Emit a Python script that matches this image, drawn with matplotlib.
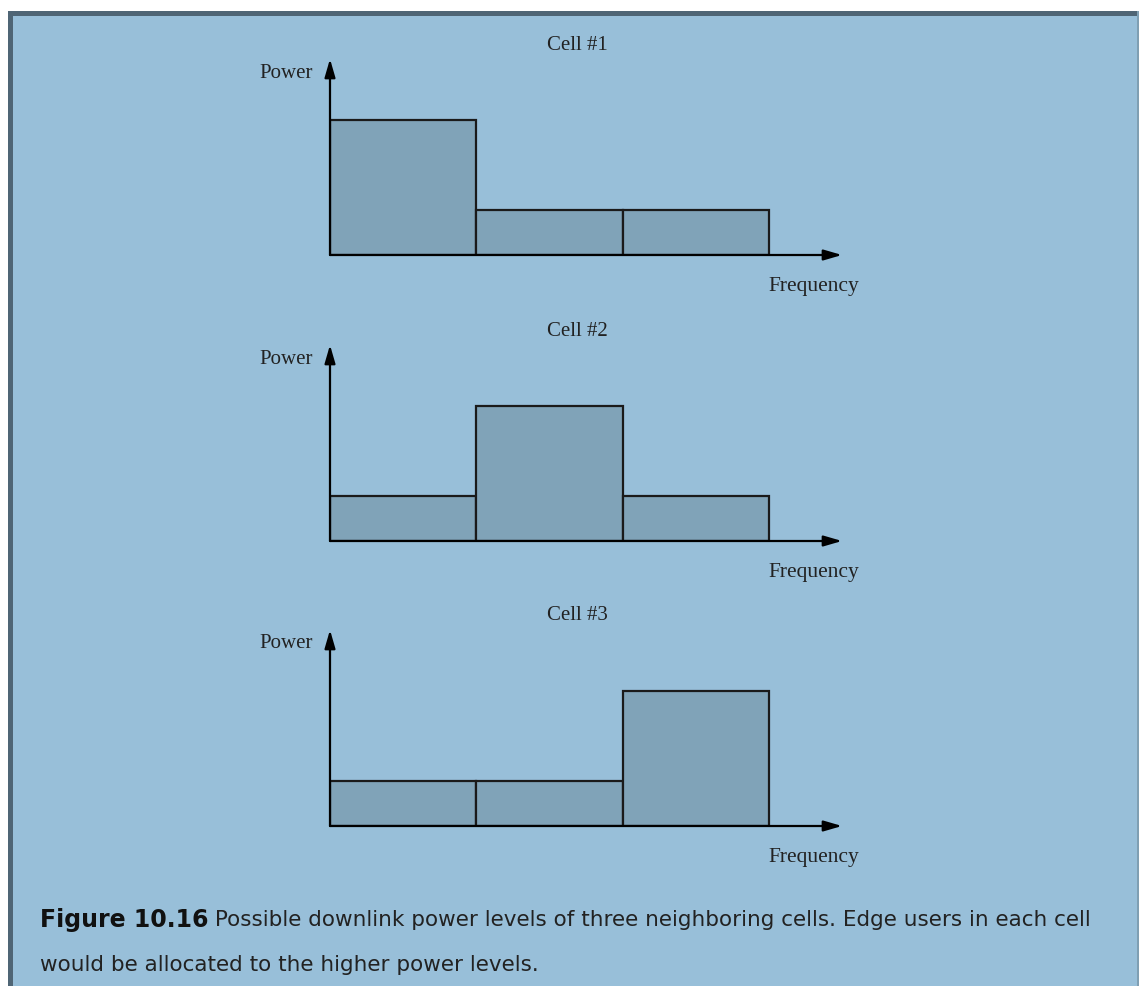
import matplotlib
matplotlib.use('Agg')
import matplotlib.pyplot as plt
from matplotlib.patches import Rectangle
from matplotlib import font_manager

# power level per frequency band, one row per cell
cells = ['Cell #1', 'Cell #2', 'Cell #3']
bands = [0, 1, 2]
power_cell1 = [3, 1, 1]
power_cell2 = [1, 3, 1]
power_cell3 = [1, 1, 3]
powers = [power_cell1, power_cell2, power_cell3]

caption_bold = 'Figure 10.16'
caption_line1 = ' Possible downlink power levels of three neighboring cells. Edge users in each cell'
caption_line2 = 'would be allocated to the higher power levels.'

BG = '#98bfd9'
BAR = '#80a3b8'
EDGE = '#1a1a1a'
BORDER = '#4f6575'

W, H = 1139, 987
fig = plt.figure(figsize=(W / 100, H / 100), dpi=100)
fig.patch.set_facecolor('white')

# framed blue panel
fig.add_artist(Rectangle((10 / W, 0), (W - 11) / W, (H - 14) / H, transform=fig.transFigure,
                         facecolor=BG, edgecolor='none', zorder=0))
fig.add_artist(Rectangle((8 / W, 0), 5 / W, (H - 12) / H, transform=fig.transFigure,
                         facecolor=BORDER, edgecolor='none', zorder=1))
fig.add_artist(Rectangle((8 / W, (H - 17) / H), (W - 8) / W, 5 / H, transform=fig.transFigure,
                         facecolor=BORDER, edgecolor='none', zorder=1))
fig.add_artist(Rectangle(((W - 2) / W, 0), 2 / W, (H - 12) / H, transform=fig.transFigure,
                         facecolor='#7f9fb3', edgecolor='none', zorder=1))

serif = ['Liberation Serif', 'DejaVu Serif']
names = {f.name for f in font_manager.fontManager.ttflist}
sans = ['Liberation Sans Narrow'] if 'Liberation Sans Narrow' in names else ['DejaVu Sans']

x0, x1 = 330, 842          # origin and x-arrow tip (pixels)
unit_x = (769 - 330) / 3    # one band width in pixels
unit_y = 45                 # one power unit in pixels
origins = [256, 542, 827]
tip_h = 196

arrow = dict(arrowstyle='-|>,head_length=1.1,head_width=0.32', color='black', lw=1.6,
             shrinkA=0, shrinkB=0)

for name, p, oy in zip(cells, powers, origins):
    ax = fig.add_axes([x0 / W, (H - oy) / H, (x1 - x0) / W, tip_h / H])
    ax.set_xlim(0, (x1 - x0) / unit_x)
    ax.set_ylim(0, tip_h / unit_y)
    ax.axis('off')
    ax.patch.set_alpha(0)
    ax.bar(bands, p, width=1, align='edge', color=BAR, edgecolor=EDGE, linewidth=1.6, zorder=2)
    ax.annotate('', xy=(1, 0), xytext=(0, 0), xycoords='axes fraction', arrowprops=arrow, zorder=3)
    ax.annotate('', xy=(0, 1), xytext=(0, 0), xycoords='axes fraction', arrowprops=arrow, zorder=3)
    fig.text(577 / W, 1 - (oy - 211) / H, name, ha='center', va='center', fontsize=15,
             family=serif, color='#222222')
    fig.text(313 / W, 1 - (oy - 183) / H, 'Power', ha='right', va='center', fontsize=15,
             family=serif, color='#222222')
    fig.text(859 / W, 1 - (oy + 31) / H, 'Frequency', ha='right', va='center', fontsize=15.5,
             family=serif, color='#222222')

t = fig.text(40 / W, 1 - 920 / H, caption_bold, ha='left', va='center', fontsize=17,
             family=sans, weight='bold', color='#111111')
fig.canvas.draw()
bb = t.get_window_extent()
fig.text(bb.x1 / W, 1 - 920 / H, caption_line1, ha='left', va='center', fontsize=15.5,
         family=sans, color='#222222')
fig.text(40 / W, 1 - 965 / H, caption_line2, ha='left', va='center', fontsize=15.5,
         family=sans, color='#222222')

fig.savefig('out.png', dpi=100, facecolor=fig.get_facecolor())
